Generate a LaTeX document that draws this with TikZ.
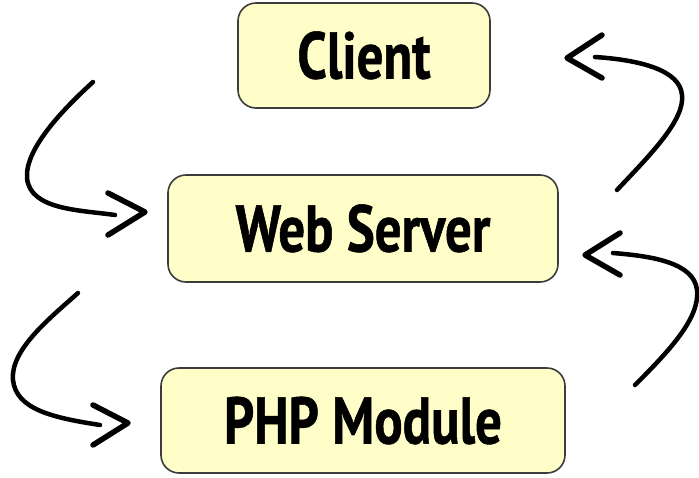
\documentclass[tikz,border=0pt]{standalone}
\usepackage{fontspec}
\newfontfamily\boxfont{PT Sans}[FakeStretch=0.8,FakeBold=0.8]
\definecolor{boxfill}{HTML}{FFFDC8}
\definecolor{boxline}{HTML}{3C3C3C}

\begin{document}
\begin{tikzpicture}[x=1pt,y=-1pt,
		layer/.style={draw=boxline,fill=boxfill,line width=1.6pt,rounded corners=18pt,inner sep=0pt,
			font=\boxfont\bfseries\fontsize{66}{70}\selectfont,text height=46pt,text depth=0pt},
		flow/.style={line width=4.5pt,line cap=round,line join=round},
		barb/.style={line width=5.5pt,line cap=round,line join=round}]
		\useasboundingbox (0,0) rectangle (699,477);

		\node [layer,minimum width=252pt,minimum height=105pt] (client) at (364,55.5) {Client};
		\node [layer,minimum width=390pt,minimum height=107pt] (server) at (363,228.5) {Web Server};
		\node [layer,minimum width=404pt,minimum height=105pt] (module) at (363,420.5) {PHP Module};

		\coordinate (req1) at (93,82);
		\coordinate (req1end) at (115,215);
		\coordinate (req1tip) at (145,212);
		\coordinate (req2) at (78,293);
		\coordinate (req2end) at (100,425);
		\coordinate (req2tip) at (128,423);
		\coordinate (res1) at (617,190);
		\coordinate (res1end) at (595,57);
		\coordinate (res1tip) at (567,58);
		\coordinate (res2) at (635,385);
		\coordinate (res2end) at (613,253);
		\coordinate (res2tip) at (585,255);

		\draw [flow] (req1) .. controls (60,112) and (25,150) .. (27,178) .. controls (30,210) and (80,210) .. (req1end);
		\draw [barb] (req1tip) ++(-37,-19) -- (req1tip) -- ++(-37,23);

		\draw [flow] (req2) .. controls (50,318) and (10,350) .. (13,380) .. controls (16,410) and (55,418) .. (req2end);
		\draw [barb] (req2tip) ++(-35,-18) -- (req2tip) -- ++(-35,22);

		\draw [flow] (res1) .. controls (650,155) and (685,120) .. (682,95) .. controls (680,70) and (640,60) .. (res1end);
		\draw [barb] (res1tip) ++(35,-23) -- (res1tip) -- ++(35,20);

		\draw [flow] (res2) .. controls (670,350) and (700,318) .. (697,290) .. controls (694,262) and (650,256) .. (res2end);
		\draw [barb] (res2tip) ++(35,-22) -- (res2tip) -- ++(35,20);
	\end{tikzpicture}
\end{document}
